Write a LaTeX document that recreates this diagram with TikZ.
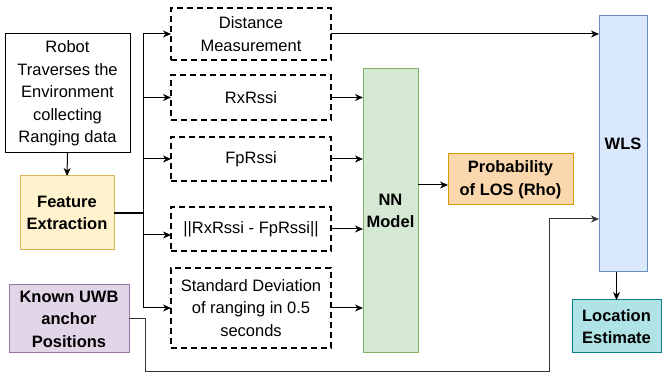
\documentclass[tikz,border=0pt]{standalone}
\usepackage{fontspec}
\setmainfont{Liberation Sans}
\usetikzlibrary{arrows.meta}
\definecolor{featfill}{HTML}{FFF2CC}\definecolor{featdraw}{HTML}{D6B656}
\definecolor{knownfill}{HTML}{E1D5E7}\definecolor{knowndraw}{HTML}{9673A6}
\definecolor{nnfill}{HTML}{D5E8D4}\definecolor{nndraw}{HTML}{82B366}
\definecolor{probfill}{HTML}{FAD7AC}\definecolor{probdraw}{HTML}{D79B00}
\definecolor{wlsfill}{HTML}{DAE8FC}\definecolor{wlsdraw}{HTML}{6C8EBF}
\definecolor{locfill}{HTML}{B0E3E6}\definecolor{locdraw}{HTML}{0E8088}
\tikzset{
  every node/.style={font=\fontsize{16.5}{22.5}\selectfont, align=center, inner sep=0pt, outer sep=0pt},
  plainbox/.style={draw=black, line width=1pt},
  dashbox/.style={draw=black, line width=2pt, dash pattern=on 6pt off 4pt},
  colbox/.style={line width=1pt, font=\fontsize{16.5}{22.5}\selectfont\bfseries},
  conn/.style={line width=1pt, -{Stealth[length=8pt,width=7pt,inset=2.5pt]}},
  plainline/.style={line width=1pt}
}
\begin{document}
\begin{tikzpicture}[x=1pt,y=-1pt]
\useasboundingbox (0,0) rectangle (662,374);
\node[plainbox, minimum width=125pt, minimum height=119pt] (robot) at (67.5,93.5) {Robot\\Traverses the\\Environment\\collecting\\Ranging data};
\node[colbox, fill=featfill, draw=featdraw, minimum width=94pt, minimum height=74pt] (feat) at (67,213) {Feature\\Extraction};
\node[colbox, fill=knownfill, draw=knowndraw, minimum width=120pt, minimum height=68pt] (known) at (69,319) {Known UWB\\anchor\\Positions};
\node[dashbox, minimum width=160pt, minimum height=52pt] (dist) at (251,34) {Distance\\Measurement};
\node[dashbox, minimum width=160pt, minimum height=45pt] (rx) at (251,97.5) {RxRssi};
\node[dashbox, minimum width=160pt, minimum height=44pt] (fp) at (251,159) {FpRssi};
\node[dashbox, minimum width=160pt, minimum height=44pt] (diff) at (251,229) {||RxRssi - FpRssi||};
\node[dashbox, minimum width=160pt, minimum height=80pt] (std) at (251,308) {Standard Deviation\\of ranging in 0.5\\seconds};
\node[colbox, fill=nnfill, draw=nndraw, minimum width=55pt, minimum height=284pt] (nn) at (390.5,211) {NN\\Model};
\node[colbox, fill=probfill, draw=probdraw, minimum width=125pt, minimum height=51pt] (prob) at (510.5,179.5) {Probability\\of LOS (Rho)};
\node[colbox, fill=wlsfill, draw=wlsdraw, minimum width=48pt, minimum height=256pt] (wls) at (623,144) {WLS};
\node[colbox, fill=locfill, draw=locdraw, minimum width=89pt, minimum height=53pt] (loc) at (616.5,326.5) {Location\\Estimate};
% robot -> feature
\draw[conn] (robot.south) -- (feat.north);
% trunk
\coordinate (trunk) at (143,213);
\draw[line width=2pt] (feat.east) -- (trunk);
\draw[conn] (trunk) |- (dist.west);
\draw[conn] (trunk) |- (rx.west);
\draw[conn] (trunk) |- (fp.west);
\draw[conn] (trunk) |- ([yshift=-6pt]diff.west);
\draw[conn] (trunk) |- (std.west);
% to NN
\draw[conn] (rx.east) -- (nn.west |- rx.east);
\draw[conn] (fp.east) -- (nn.west |- fp.east);
\draw[conn] (diff.east) -- (nn.west |- diff.east);
\draw[conn] (std.east) -- (nn.west |- std.east);
% distance -> WLS
\draw[conn] (dist.east) -- (wls.west |- dist.east);
% NN -> prob
\draw[conn] (nn.east |- prob.west) ++(0,5.5) -- ([yshift=-5.5pt]prob.west);
% known -> WLS
\coordinate (kb) at (145,372);
\coordinate (kt) at (549,219);
\draw[conn, draw=black!80] (known.east) -| (kb) -| (kt) -- (wls.west |- kt);
% WLS -> location
\draw[conn] (wls.south -| loc.north) -- (loc.north);
\end{tikzpicture}
\end{document}
